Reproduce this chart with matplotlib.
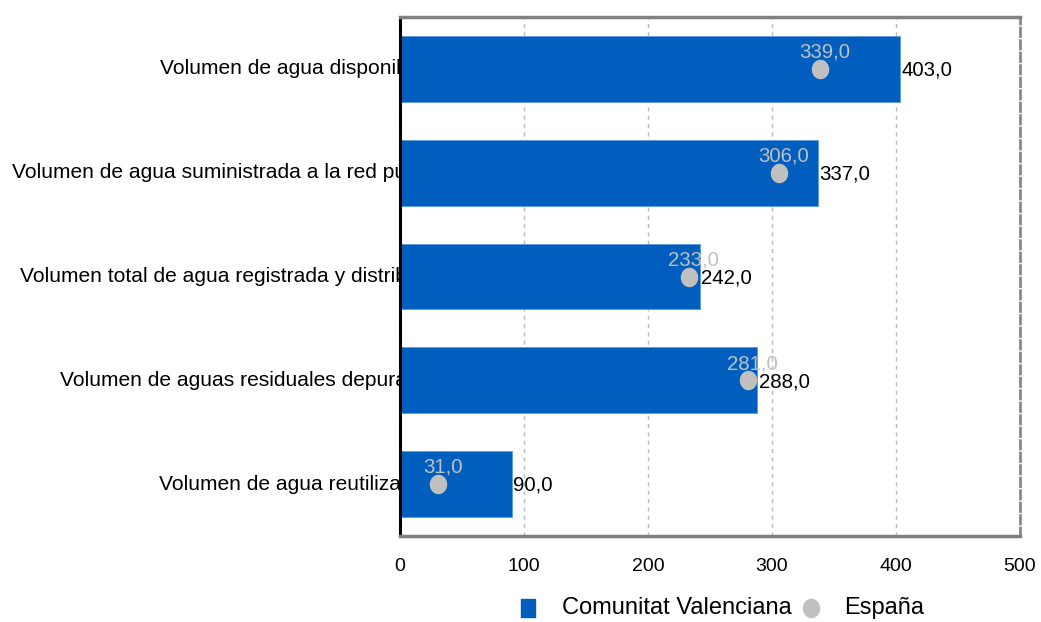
import numpy as np
import matplotlib
matplotlib.use("Agg")
import matplotlib.pyplot as plt
from matplotlib.transforms import Bbox, TransformedBbox, blended_transform_factory
from matplotlib.lines import Line2D
from matplotlib.path import Path

plt.rcParams['font.family'] = ['Liberation Sans', 'DejaVu Sans']

categories = [
    "Volumen de agua disponible",
    "Volumen de agua suministrada a la red pública",
    "Volumen total de agua registrada y distribuida",
    "Volumen de aguas residuales depuradas",
    "Volumen de agua reutilizada",
]
comunitat = [403.0, 337.0, 242.0, 288.0, 90.0]
espana = [339.0, 306.0, 233.0, 281.0, 31.0]
x_ticks = [0, 100, 200, 300, 400, 500]
series_names = ["Comunitat Valenciana", "España"]

BLUE = "#005EBE"
GREY = "#C0C0C0"
W, H = 1041, 622


def fmt(v):
    return f"{v:.1f}".replace(".", ",")


# slightly tall ellipse / rectangle marker shapes
theta = np.linspace(0, 2 * np.pi, 60)
ELLIPSE = Path(np.column_stack([0.445 * np.cos(theta), 0.5 * np.sin(theta)]), closed=True)
RECT = Path([(-0.41, -0.5), (0.41, -0.5), (0.41, 0.5), (-0.41, 0.5), (-0.41, -0.5)], closed=True)

fig = plt.figure(figsize=(W / 100, H / 100), dpi=100)
ax_left, ax_right, ax_bottom, ax_top = 400 / W, 1020 / W, 1 - 536 / H, 1 - 17 / H
ax = fig.add_axes([ax_left, ax_bottom, ax_right - ax_left, ax_top - ax_bottom])

ypos = list(range(len(categories)))
ax.barh(ypos, comunitat, height=0.635, color=BLUE, edgecolor="#5B9BDB",
        linewidth=0.6, zorder=2)
ax.plot(espana, ypos, linestyle="none", marker=ELLIPSE, markersize=13,
        markerfacecolor=GREY, markeredgecolor=GREY, zorder=3)

for y, v in zip(ypos, comunitat):
    ax.annotate(fmt(v), (v, y), xytext=(1, -1), textcoords="offset points",
                ha="left", va="center", fontsize=14.7, color="black", zorder=4)
for y, v in zip(ypos, espana):
    ax.annotate(fmt(v), (v, y), xytext=(3, 12), textcoords="offset points",
                ha="center", va="center", fontsize=14.7, color=GREY, zorder=4)

ax.set_xlim(0, 500)
ax.set_ylim(len(categories) - 0.5, -0.5)
ax.set_xticks(x_ticks)
ax.set_xticklabels([str(t) for t in x_ticks], fontsize=14)
ax.tick_params(axis="x", length=0, pad=15.5)
ax.set_yticks([])
ax.xaxis.grid(True, linestyle=(0, (3, 3)), color="#BBBBBB", linewidth=1, zorder=0)

# Category labels: anchored as right-aligned 13pt text ending at x=387px,
# drawn larger and cut off where the plotting area begins
renderer = fig.canvas.get_renderer()
clip = TransformedBbox(Bbox([[0, 0], [ax_left, 1]]), fig.transFigure)
trans = blended_transform_factory(fig.transFigure, ax.transData)
for y, name in zip(ypos, categories):
    probe = fig.text(0, 0, name, fontsize=13)
    width_px = probe.get_window_extent(renderer).width
    probe.remove()
    t = ax.text((387 - width_px) / W, y, name, transform=trans, ha="left",
                va="center", fontsize=15.1, color="black", clip_on=True)
    t.set_clip_box(clip)

for side in ("top", "bottom"):
    ax.spines[side].set_color("#808080")
    ax.spines[side].set_linewidth(2.5)
ax.spines["left"].set_color("black")
ax.spines["left"].set_linewidth(2.2)
ax.spines["right"].set_color("#888888")
ax.spines["right"].set_linewidth(2)
ax.spines["right"].set_linestyle((0, (3, 1.5)))

# Legend
ly = 1 - 608 / H
fig.add_artist(Line2D([528 / W], [ly], transform=fig.transFigure, linestyle="none",
                      marker=RECT, markersize=12.3, markerfacecolor=BLUE,
                      markeredgecolor=BLUE))
fig.text(562 / W, ly, series_names[0], fontsize=17, ha="left", va="center")
fig.add_artist(Line2D([811 / W], [ly], transform=fig.transFigure, linestyle="none",
                      marker=ELLIPSE, markersize=13, markerfacecolor=GREY,
                      markeredgecolor=GREY))
fig.text(844 / W, ly, series_names[1], fontsize=17, ha="left", va="center")

fig.savefig("out.png", dpi=100)
